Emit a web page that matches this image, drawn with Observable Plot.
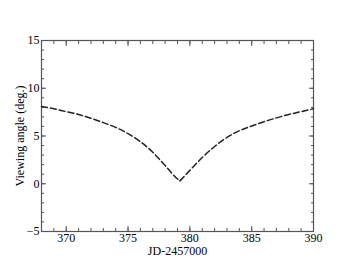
<!DOCTYPE html>
<html>
<head>
<meta charset="utf-8">
<script src="https://cdn.jsdelivr.net/npm/d3@7"></script>
<script src="https://cdn.jsdelivr.net/npm/@observablehq/plot@0.6"></script>
<style>
  html, body { margin: 0; padding: 0; background: #fff; }
  #chart svg { display: block; }
  #chart svg, #chart svg text { font-family: 'Liberation Serif', 'Times New Roman', serif !important; }
</style>
</head>
<body>
<div id="chart"></div>
<script>
const jd = [368, 369, 370, 371, 372, 373, 374, 375, 376, 377, 378, 379, 379.2,
            380, 381, 382, 383, 384, 385, 386, 387, 388, 389, 390];
const angle = [8.1, 7.85, 7.55, 7.25, 6.85, 6.4, 5.9, 5.25, 4.4, 3.3, 1.9, 0.5, 0.3,
               1.4, 2.75, 3.9, 4.85, 5.55, 6.05, 6.5, 6.9, 7.25, 7.55, 7.85];
const side = jd.map(d => d <= 379.2 ? "before" : "after");
const xMajor = [370, 375, 380, 385, 390];
const yMajor = [-5, 0, 5, 10, 15];
const xMinor = d3.range(368, 391, 1);
const yMinor = d3.range(-5, 16, 1);

const rows = jd.map((d, i) => ({jd: d, angle: angle[i], side: side[i]}));
const minIdx = angle.indexOf(d3.min(angle));
rows.push({jd: jd[minIdx], angle: angle[minIdx], side: "after"});
rows.sort((a, b) => a.jd - b.jd);

const font = "'Liberation Serif', 'Times New Roman', serif";
const tickColor = "#555";

const chart = Plot.plot({
  width: 353,
  height: 273,
  marginLeft: 41,
  marginRight: 40,
  marginTop: 40,
  marginBottom: 42,
  style: {fontFamily: font, fontSize: "12px", color: "#000", background: "#fff"},
  x: {domain: [368, 390]},
  y: {domain: [-5, 15]},
  marks: [
    Plot.axisX(xMinor, {anchor: "bottom", tickSize: -3, tickFormat: () => "", stroke: tickColor, label: null}),
    Plot.axisX(xMinor, {anchor: "top", tickSize: -3, tickFormat: () => "", stroke: tickColor, label: null}),
    Plot.axisY(yMinor, {anchor: "left", tickSize: -3, tickFormat: () => "", stroke: tickColor, label: null}),
    Plot.axisY(yMinor, {anchor: "right", tickSize: -3, tickFormat: () => "", stroke: tickColor, label: null}),
    Plot.axisX(xMajor, {anchor: "bottom", tickSize: -5, tickFormat: () => "", stroke: tickColor, label: null}),
    Plot.axisX(xMajor, {anchor: "top", tickSize: -5, tickFormat: () => "", stroke: tickColor, label: null}),
    Plot.axisY(yMajor, {anchor: "left", tickSize: -5, tickFormat: () => "", stroke: tickColor, label: null}),
    Plot.axisY(yMajor, {anchor: "right", tickSize: -5, tickFormat: () => "", stroke: tickColor, label: null}),
    Plot.axisX(xMajor, {anchor: "bottom", tickSize: 0, tickPadding: 2, fontSize: 12, fill: "#000", fontFamily: font,
      label: "JD-2457000", labelAnchor: "center", labelArrow: "none", labelOffset: 23}),
    Plot.axisY(yMajor, {anchor: "left", tickSize: 0, tickPadding: 2, fontSize: 12, fill: "#000", fontFamily: font,
      label: "Viewing angle (deg.)", labelAnchor: "center", labelArrow: "none", labelOffset: 26}),
    Plot.frame({stroke: tickColor, strokeWidth: 1.2}),
    Plot.line(rows, {x: "jd", y: "angle", z: "side", curve: "monotone-x",
      stroke: "#222", strokeWidth: 1.5, strokeDasharray: "6,3"})
  ]
});
document.getElementById("chart").appendChild(chart);
</script>
</body>
</html>
